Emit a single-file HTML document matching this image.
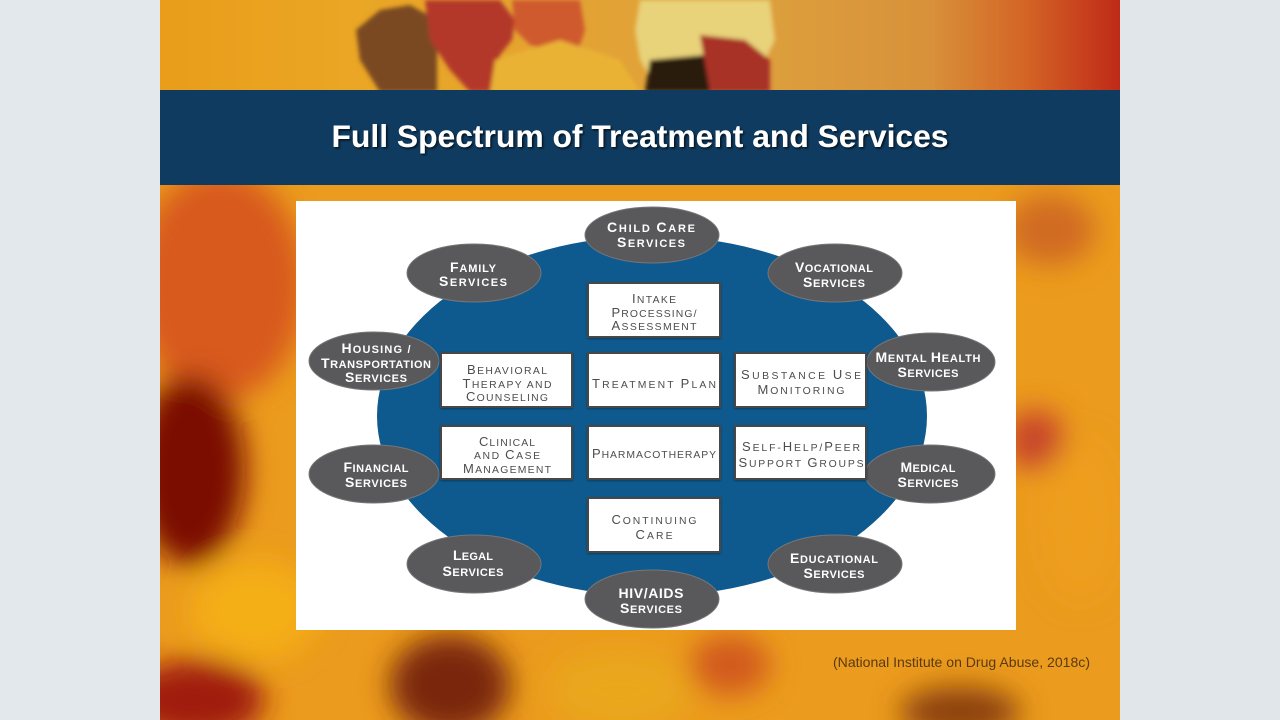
<!DOCTYPE html>
<html>
<head>
<meta charset="utf-8">
<style>
html,body{margin:0;padding:0;background:#e3e8ec;}
body{width:1280px;height:720px;overflow:hidden;}
svg{display:block;}
.et{font-family:"Liberation Sans",Arial,sans-serif;font-weight:bold;fill:#ffffff;font-size:11px;}
.et .c{font-size:14px;}
.bt{font-family:"Liberation Sans",Arial,sans-serif;fill:#4d4d4d;font-size:10.4px;}
.bt .c{font-size:13px;}
</style>
</head>
<body>
<svg width="1280" height="720" viewBox="0 0 1280 720" xmlns="http://www.w3.org/2000/svg">
<defs>
  <filter id="blur" x="-60%" y="-60%" width="220%" height="220%"><feGaussianBlur stdDeviation="14"/></filter>
  <filter id="soft" x="-20%" y="-20%" width="140%" height="140%"><feGaussianBlur stdDeviation="2"/></filter>
  <filter id="tsh" x="-5%" y="-20%" width="110%" height="140%"><feDropShadow dx="1.5" dy="1.5" stdDeviation="1" flood-color="#000" flood-opacity="0.7"/></filter>
  <filter id="bsh" x="-10%" y="-10%" width="120%" height="130%"><feDropShadow dx="0" dy="1" stdDeviation="1" flood-color="#000" flood-opacity="0.35"/></filter>
  <clipPath id="slide"><rect x="160" y="0" width="960" height="720"/></clipPath>
  <linearGradient id="topg" x1="0" y1="0" x2="1" y2="0">
    <stop offset="0" stop-color="#e99d1a"/>
    <stop offset="0.2" stop-color="#eaa624"/>
    <stop offset="0.6" stop-color="#dea13e"/>
    <stop offset="0.8" stop-color="#d8923a"/>
    <stop offset="0.9" stop-color="#d46526"/>
    <stop offset="1" stop-color="#bf2a18"/>
  </linearGradient>
</defs>

<rect x="0" y="0" width="1280" height="720" fill="#e3e8ec"/>
<rect x="1120" y="0" width="160" height="720" fill="#e1e6ea"/>

<g clip-path="url(#slide)">
  <rect x="160" y="0" width="960" height="720" fill="#eb9b1d"/>
  <!-- top strip -->
  <rect x="160" y="0" width="960" height="92" fill="url(#topg)"/>
  <g filter="url(#soft)">
    <polygon points="356,30 380,10 410,5 437,20 437,92 380,92 360,60" fill="#7a4a22"/>
    <polygon points="425,0 500,0 515,20 512,40 500,55 495,92 470,92 450,70 430,40" fill="#b3392c"/>
    <polygon points="512,0 580,0 585,30 575,60 550,50 530,45 515,30" fill="#cf5a2e"/>
    <polygon points="495,60 560,40 620,60 640,92 490,92" fill="#e9b236"/>
    <polygon points="640,0 770,0 775,40 760,70 740,60 725,92 705,60 690,80 670,70 655,85 640,60 635,30" fill="#e8d27a"/>
    <polygon points="650,60 705,55 715,92 645,92" fill="#2b1a0a"/>
    <polygon points="700,35 745,40 770,60 770,92 710,92" fill="#a83228"/>
  </g>
  <!-- lower background blobs -->
  <g filter="url(#blur)">
    <ellipse cx="220" cy="285" rx="85" ry="115" fill="#d85a1c"/>
    <ellipse cx="190" cy="470" rx="55" ry="95" fill="#7a1006"/>
    <ellipse cx="255" cy="610" rx="65" ry="50" fill="#f4ae18"/>
    <ellipse cx="195" cy="700" rx="70" ry="40" fill="#a01a08"/>
    <ellipse cx="1050" cy="230" rx="45" ry="35" fill="#d06a22"/>
    <ellipse cx="1035" cy="440" rx="30" ry="30" fill="#c8452a"/>
    <ellipse cx="1080" cy="520" rx="40" ry="80" fill="#ee9e1c"/>
    <ellipse cx="450" cy="685" rx="60" ry="50" fill="#7a2808"/>
    <ellipse cx="620" cy="690" rx="70" ry="40" fill="#eaa71e"/>
    <ellipse cx="730" cy="665" rx="40" ry="30" fill="#d25a1c"/>
    <ellipse cx="960" cy="712" rx="60" ry="25" fill="#8a4010"/>
  </g>
  <!-- header band -->
  <rect x="160" y="90" width="960" height="95" fill="#0f3b60"/>
</g>

<text x="640" y="147" text-anchor="middle" font-family="Liberation Sans, Arial, sans-serif" font-weight="bold" font-size="31.5" fill="#ffffff" filter="url(#tsh)" textLength="617" lengthAdjust="spacingAndGlyphs">Full Spectrum of Treatment and Services</text>

<!-- white panel -->
<rect x="296" y="201" width="720" height="429" fill="#ffffff"/>

<!-- blue ellipse -->
<ellipse cx="652" cy="416" rx="275" ry="180" fill="#0e5a8e"/>

<!-- gray ellipses -->
<g fill="#59595b" stroke="#767678" stroke-width="1">
  <ellipse cx="652" cy="235" rx="67" ry="28"/>
  <ellipse cx="474" cy="273" rx="67" ry="29"/>
  <ellipse cx="835" cy="273" rx="67" ry="29"/>
  <ellipse cx="374" cy="361" rx="65" ry="29"/>
  <ellipse cx="931" cy="362" rx="64" ry="29"/>
  <ellipse cx="374" cy="474" rx="65" ry="29"/>
  <ellipse cx="930" cy="474" rx="65" ry="29"/>
  <ellipse cx="474" cy="564" rx="67" ry="29"/>
  <ellipse cx="835" cy="564" rx="67" ry="29"/>
  <ellipse cx="652" cy="599" rx="67" ry="29"/>
</g>

<!-- boxes -->
<g fill="#ffffff" stroke="#474747" stroke-width="2" filter="url(#bsh)">
  <rect x="588" y="283" width="132" height="54"/>
  <rect x="441" y="353" width="131" height="54"/>
  <rect x="588" y="353" width="132" height="54"/>
  <rect x="735" y="353" width="131" height="54"/>
  <rect x="441" y="426" width="131" height="53"/>
  <rect x="588" y="426" width="132" height="53"/>
  <rect x="735" y="426" width="131" height="53"/>
  <rect x="588" y="498" width="132" height="54"/>
</g>

<!-- ellipse labels -->
<g class="et" text-anchor="middle">
  <text x="651" y="232" textLength="88" lengthAdjust="spacing"><tspan class="c">C</tspan>HILD <tspan class="c">C</tspan>ARE</text>
  <text x="651" y="247" textLength="68" lengthAdjust="spacing"><tspan class="c">S</tspan>ERVICES</text>

  <text x="473" y="272" textLength="46" lengthAdjust="spacing"><tspan class="c">F</tspan>AMILY</text>
  <text x="473" y="286" textLength="68" lengthAdjust="spacing"><tspan class="c">S</tspan>ERVICES</text>

  <text x="834" y="272" textLength="78" lengthAdjust="spacing"><tspan class="c">V</tspan>OCATIONAL</text>
  <text x="834" y="287" textLength="62" lengthAdjust="spacing"><tspan class="c">S</tspan>ERVICES</text>

  <text x="376" y="353" textLength="69" lengthAdjust="spacing"><tspan class="c">H</tspan>OUSING /</text>
  <text x="376" y="368" textLength="110" lengthAdjust="spacing"><tspan class="c">T</tspan>RANSPORTATION</text>
  <text x="376" y="382" textLength="62" lengthAdjust="spacing"><tspan class="c">S</tspan>ERVICES</text>

  <text x="928" y="362" textLength="105" lengthAdjust="spacing"><tspan class="c">M</tspan>ENTAL <tspan class="c">H</tspan>EALTH</text>
  <text x="928" y="377" textLength="61" lengthAdjust="spacing"><tspan class="c">S</tspan>ERVICES</text>

  <text x="376" y="472" textLength="65" lengthAdjust="spacing"><tspan class="c">F</tspan>INANCIAL</text>
  <text x="376" y="487" textLength="62" lengthAdjust="spacing"><tspan class="c">S</tspan>ERVICES</text>

  <text x="928" y="472" textLength="55" lengthAdjust="spacing"><tspan class="c">M</tspan>EDICAL</text>
  <text x="928" y="487" textLength="61" lengthAdjust="spacing"><tspan class="c">S</tspan>ERVICES</text>

  <text x="473" y="560" textLength="40" lengthAdjust="spacing"><tspan class="c">L</tspan>EGAL</text>
  <text x="473" y="576" textLength="61" lengthAdjust="spacing"><tspan class="c">S</tspan>ERVICES</text>

  <text x="834" y="563" textLength="88" lengthAdjust="spacing"><tspan class="c">E</tspan>DUCATIONAL</text>
  <text x="834" y="578" textLength="61" lengthAdjust="spacing"><tspan class="c">S</tspan>ERVICES</text>

  <text x="651" y="598" textLength="65" lengthAdjust="spacing" style="font-size:14px">HIV/AIDS</text>
  <text x="651" y="613" textLength="62" lengthAdjust="spacing"><tspan class="c">S</tspan>ERVICES</text>
</g>

<!-- box labels -->
<g class="bt" text-anchor="middle">
  <text x="654" y="303" textLength="44" lengthAdjust="spacing"><tspan class="c">I</tspan>NTAKE</text>
  <text x="654" y="317" textLength="85" lengthAdjust="spacing"><tspan class="c">P</tspan>ROCESSING/</text>
  <text x="654" y="330" textLength="85" lengthAdjust="spacing"><tspan class="c">A</tspan>SSESSMENT</text>

  <text x="507" y="374" textLength="80" lengthAdjust="spacing"><tspan class="c">B</tspan>EHAVIORAL</text>
  <text x="507" y="388" textLength="89" lengthAdjust="spacing"><tspan class="c">T</tspan>HERAPY AND</text>
  <text x="507" y="401" textLength="82" lengthAdjust="spacing"><tspan class="c">C</tspan>OUNSELING</text>

  <text x="654" y="388" textLength="124" lengthAdjust="spacing"><tspan class="c">T</tspan>REATMENT <tspan class="c">P</tspan>LAN</text>

  <text x="801" y="379" textLength="120" lengthAdjust="spacing"><tspan class="c">S</tspan>UBSTANCE <tspan class="c">U</tspan>SE</text>
  <text x="801" y="394" textLength="87" lengthAdjust="spacing"><tspan class="c">M</tspan>ONITORING</text>

  <text x="507" y="446" textLength="56" lengthAdjust="spacing"><tspan class="c">C</tspan>LINICAL</text>
  <text x="507" y="459" textLength="66" lengthAdjust="spacing">AND <tspan class="c">C</tspan>ASE</text>
  <text x="507" y="473" textLength="88" lengthAdjust="spacing"><tspan class="c">M</tspan>ANAGEMENT</text>

  <text x="654" y="458" textLength="124" lengthAdjust="spacing"><tspan class="c">P</tspan>HARMACOTHERAPY</text>

  <text x="801" y="451" textLength="118" lengthAdjust="spacing"><tspan class="c">S</tspan>ELF-<tspan class="c">H</tspan>ELP/<tspan class="c">P</tspan>EER</text>
  <text x="801" y="467" textLength="125" lengthAdjust="spacing"><tspan class="c">S</tspan>UPPORT <tspan class="c">G</tspan>ROUPS</text>

  <text x="654" y="524" textLength="85" lengthAdjust="spacing"><tspan class="c">C</tspan>ONTINUING</text>
  <text x="654" y="539" textLength="37" lengthAdjust="spacing"><tspan class="c">C</tspan>ARE</text>
</g>

<!-- citation -->
<text x="833" y="667" font-family="Liberation Sans, Arial, sans-serif" font-size="14" fill="#5a3a12" textLength="257" lengthAdjust="spacingAndGlyphs">(National Institute on Drug Abuse, 2018c)</text>
</svg>
</body>
</html>
